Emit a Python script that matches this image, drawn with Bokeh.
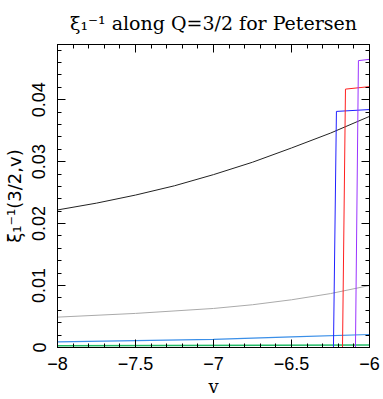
from bokeh.plotting import figure
from bokeh.models import LinearAxis, Range1d, FixedTicker, Title
from bokeh.embed import file_html
from bokeh.resources import INLINE

# ---- data ----
v_black = [-8.0, -7.75, -7.5, -7.25, -7.0, -6.75, -6.5, -6.25, -6.0]
y_black = [0.0222, 0.0233, 0.0246, 0.0261, 0.0279, 0.0299, 0.0322, 0.0346, 0.0373]

v_gray = [-8.0, -7.5, -7.0, -6.75, -6.5, -6.25, -6.0]
y_gray = [0.0049, 0.0055, 0.0063, 0.0069, 0.0077, 0.0087, 0.0100]

v_lblue = [-8.0, -7.0, -6.5, -6.0]
y_lblue = [0.0009, 0.0013, 0.0017, 0.0021]

v_green = [-8.0, -6.0]
y_green = [0.0003, 0.0004]

v_blue = [-8.0, -6.231, -6.212, -6.0]
y_blue = [0.0, 0.0, 0.0381, 0.0384]

v_red = [-8.0, -6.173, -6.154, -6.0]
y_red = [0.0, 0.0, 0.0417, 0.0421]

v_purple = [-8.0, -6.09, -6.071, -6.0]
y_purple = [0.0, 0.0, 0.0463, 0.0465]

x_ticks = [-8, -7.5, -7, -6.5, -6]
x_tick_labels = ["\u22128", "\u22127.5", "\u22127", "\u22126.5", "\u22126"]
y_ticks = [0, 0.01, 0.02, 0.03, 0.04]
y_tick_labels = ["0", "0.01", "0.02", "0.03", "0.04"]

title_text = "\u03be\u2081\u207b\u00b9 along Q=3/2 for Petersen"
y_label = "\u03be\u2081\u207b\u00b9(3/2,v)"
x_label = "v"

p = figure(width=383, height=399, output_backend="svg", toolbar_location=None,
           x_range=Range1d(-8, -6), y_range=Range1d(0, 0.0489),
           min_border_left=57, min_border_right=14, min_border_top=44,
           min_border_bottom=47, x_axis_label=x_label, y_axis_label=y_label)
p.grid.visible = False
p.outline_line_color = "black"
p.background_fill_color = "white"
p.border_fill_color = "white"

p.line(v_black, y_black, line_color="#222222", line_width=1)
p.line(v_gray, y_gray, line_color="#aaaaaa", line_width=1)
p.line(v_lblue, y_lblue, line_color="#3a8fe8", line_width=1.2)
p.line(v_green, y_green, line_color="#22bb66", line_width=1.5)
p.line(v_blue, y_blue, line_color="#2020ff", line_width=1)
p.line(v_red, y_red, line_color="#ff2020", line_width=1)
p.line(v_purple, y_purple, line_color="#9a33ff", line_width=1)


def style(ax):
    ax.axis_line_color = "black"
    ax.major_tick_in = 8
    ax.major_tick_out = 0
    ax.minor_tick_in = 4
    ax.minor_tick_out = 0
    ax.major_tick_line_color = "black"
    ax.minor_tick_line_color = "black"
    ax.major_label_text_color = "black"
    ax.axis_label_text_color = "black"


xt = FixedTicker(ticks=x_ticks, minor_ticks=[-8 + 0.1 * i for i in range(21)])
yt = FixedTicker(ticks=y_ticks, minor_ticks=[0.002 * i for i in range(25)])

xa = p.xaxis[0]
xa.ticker = xt
style(xa)
xa.major_label_overrides = dict(zip(x_ticks, x_tick_labels))
xa.major_label_text_font = "Liberation Sans"
xa.major_label_text_font_size = "18px"
xa.major_label_standoff = 9
xa.axis_label_text_font = "DejaVu Serif"
xa.axis_label_text_font_style = "normal"
xa.axis_label_text_font_size = "18px"
xa.axis_label_standoff = 3

ya = p.yaxis[0]
ya.ticker = yt
style(ya)
ya.major_label_overrides = dict(zip(y_ticks, y_tick_labels))
ya.major_label_text_font = "Liberation Sans"
ya.major_label_text_font_size = "18px"
ya.major_label_orientation = "vertical"
ya.major_label_standoff = 12
ya.axis_label_text_font = "DejaVu Sans"
ya.axis_label_text_font_style = "normal"
ya.axis_label_text_font_size = "18px"
ya.axis_label_standoff = 5

top = LinearAxis(ticker=xt)
style(top)
top.major_label_overrides = {t: "" for t in x_ticks}
top.major_label_standoff = 0
p.add_layout(top, "above")
right = LinearAxis(ticker=yt)
style(right)
right.major_label_overrides = {t: "" for t in y_ticks}
right.major_label_standoff = 0
p.add_layout(right, "right")

p.add_layout(Title(text=title_text, text_font="DejaVu Serif", text_font_size="19px",
                   text_font_style="normal", text_color="black", align="center",
                   offset=3, vertical_align="top", standoff=18), "above")

open("out.html", "w").write(file_html(p, INLINE))
